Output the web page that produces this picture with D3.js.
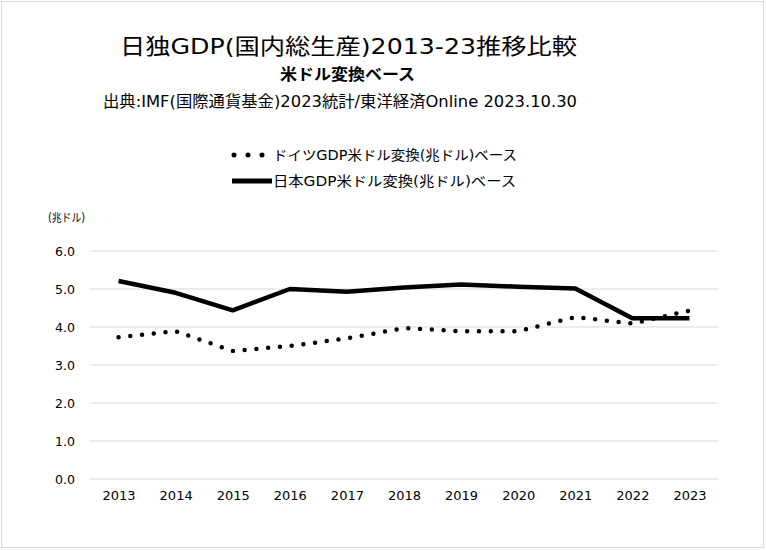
<!DOCTYPE html>
<html><head><meta charset="utf-8">
<script src="https://cdn.jsdelivr.net/npm/d3@7"></script>
<style>
html,body{margin:0;padding:0;background:#fff;}
text{font-family:"DejaVu Sans","Noto Sans CJK JP",sans-serif;fill:#000;}
</style></head>
<body><svg id="c" width="766" height="550"></svg>
<script>
const years = ["2013","2014","2015","2016","2017","2018","2019","2020","2021","2022","2023"];
const germany = [3.73,3.89,3.37,3.50,3.70,3.97,3.89,3.89,4.26,4.09,4.43];
const japan = [5.21,4.90,4.44,5.00,4.93,5.04,5.12,5.06,5.01,4.23,4.23];
const yTicks = [0,1,2,3,4,5,6];
const seriesNames = ["ドイツGDP米ドル変換(兆ドル)ベース","日本GDP米ドル変換(兆ドル)ベース"];

const svg = d3.select("#c");
svg.append("rect").attr("x",1.5).attr("y",1.5).attr("width",762).attr("height",546)
  .attr("fill","#fff").attr("stroke","#d9d9d9").attr("stroke-width",1);

const L=90,R=718,T=251,B=479;
const x = d3.scalePoint().domain(years).range([L,R]).padding(0.5);
const y = d3.scaleLinear().domain([0,6]).range([B,T]);

svg.append("g").selectAll("line").data(yTicks).join("line")
  .attr("x1",L).attr("x2",R).attr("y1",d=>y(d)).attr("y2",d=>y(d))
  .attr("stroke","#d9d9d9").attr("stroke-width",1);

const ya = svg.append("g").attr("transform",`translate(${L},0)`)
  .call(d3.axisLeft(y).tickValues(yTicks).tickFormat(d3.format(".1f")).tickSize(0).tickPadding(15));
ya.select(".domain").remove();
ya.selectAll("text").attr("font-family","DejaVu Sans").attr("font-size",12.5).attr("fill","#333");

const xa = svg.append("g").attr("transform",`translate(0,${B})`)
  .call(d3.axisBottom(x).tickSize(0).tickPadding(12));
xa.select(".domain").remove();
xa.selectAll("text").attr("font-family","Liberation Sans").attr("font-size",13).attr("fill","#222");

const line = d3.line().x((d,i)=>x(years[i])).y(d=>y(d));

svg.append("path").datum(germany).attr("d",line).attr("fill","none")
  .attr("stroke","#000").attr("stroke-width",4.5).attr("stroke-linecap","round")
  .attr("stroke-dasharray","0 11.8");
svg.append("path").datum(japan).attr("d",line).attr("fill","none")
  .attr("stroke","#000").attr("stroke-width",4.5).attr("stroke-linejoin","round");

function fit(sel, w){ sel.attr("textLength",w).attr("lengthAdjust","spacingAndGlyphs"); return sel; }

fit(svg.append("text").attr("x",120).attr("y",54)
  .attr("font-size",22).text("日独GDP(国内総生産)2013-23推移比較"),457);
fit(svg.append("text").attr("x",280).attr("y",80)
  .attr("font-size",15.5).attr("font-weight","bold").attr("font-family","Noto Sans CJK JP").text("米ドル変換ベース"),135);
fit(svg.append("text").attr("x",103).attr("y",107)
  .attr("font-size",15.5).text("出典:IMF(国際通貨基金)2023統計/東洋経済Online 2023.10.30"),474);

fit(svg.append("text").attr("x",48).attr("y",222).attr("font-size",11.5).attr("fill","#333").attr("font-family","Noto Sans CJK JP").text("(兆ドル)"),37);

const lg = svg.append("g");
lg.append("line").attr("x1",234).attr("x2",262.5).attr("y1",155).attr("y2",155)
  .attr("stroke","#000").attr("stroke-width",5).attr("stroke-linecap","round").attr("stroke-dasharray","0 14");
fit(lg.append("text").attr("x",273).attr("y",160).attr("font-size",13.5).attr("fill","#222").text(seriesNames[0]),244);
lg.append("line").attr("x1",232).attr("x2",272).attr("y1",181).attr("y2",181)
  .attr("stroke","#000").attr("stroke-width",5);
fit(lg.append("text").attr("x",273).attr("y",186).attr("font-size",13.5).attr("fill","#222").text(seriesNames[1]),243);
</script></body></html>
